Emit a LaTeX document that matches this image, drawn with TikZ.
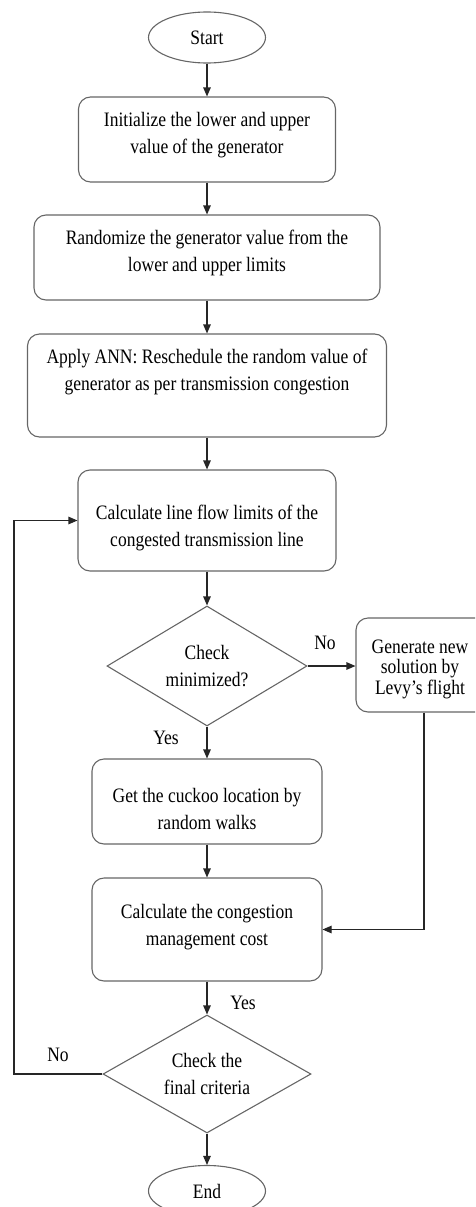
\documentclass[tikz,border=0pt]{standalone}
\usepackage{fontspec}
\setmainfont{Liberation Serif}[FakeStretch=0.854]
\usetikzlibrary{shapes.geometric,arrows.meta}
\begin{document}
\begin{tikzpicture}[x=1pt,y=-1pt,
  frame/.style={draw=black!60, line width=1.1pt, rounded corners=12pt, inner sep=0pt},
  term/.style={draw=black!60, line width=1.1pt, ellipse, minimum width=117pt, minimum height=51pt, inner sep=0pt, font=\fontsize{20.5}{21}\selectfont},
  dec/.style={draw=black!60, line width=1.1pt, diamond, inner sep=0pt},
  txt/.style={align=center, font=\fontsize{20.5}{27}\selectfont, inner sep=0pt},
  conn/.style={draw=black!85, line width=1.1pt, -{Triangle[length=9pt,width=7.5pt]}},
  lbl/.style={font=\fontsize{20.5}{21}\selectfont, inner sep=0pt}]
\useasboundingbox (0,0) rectangle (475,1207);
\clip (0,0) rectangle (475,1207);
% terminals
\node[term] (start) at (207,37.5) {Start};
\node[term] (end) at (207,1191) {End};
% process frames
\node[frame, minimum width=257pt, minimum height=85pt] (b1) at (207,139.5) {};
\node[frame, minimum width=346pt, minimum height=85pt] (b2) at (207,257.5) {};
\node[frame, minimum width=359pt, minimum height=103pt] (b3) at (207,385.5) {};
\node[frame, minimum width=258pt, minimum height=101pt] (b4) at (207,520.5) {};
\node[dec, minimum width=200pt, minimum height=120pt] (d1) at (207,666) {};
\node[frame, minimum width=136pt, minimum height=94pt] (lv) at (424,665) {};
\node[frame, minimum width=230pt, minimum height=85pt] (b5) at (207,801.5) {};
\node[frame, minimum width=230pt, minimum height=103pt] (b6) at (207,929.5) {};
\node[dec, minimum width=208pt, minimum height=118pt] (d2) at (207,1074) {};
% texts
\node[txt] (t1) at (207,135) {Initialize the lower and upper\\value of the generator};
\node[txt] (t2) at (207,252.5) {Randomize the generator value from the\\lower and upper limits};
\node[txt] (t3) at (207,372) {Apply ANN: Reschedule the random value of\\generator as per transmission congestion};
\node[txt] (t4) at (207,527.5) {Calculate line flow limits of the\\congested transmission line};
\node[txt] (td1) at (207,666) {Check\\minimized?};
\node[txt, font=\fontsize{20.5}{20.5}\selectfont] (tlv) at (420,669) {Generate new\\solution by\\Levy’s flight};
\node[txt] (t5) at (207,808.5) {Get the cuckoo location by\\random walks};
\node[txt] (t6) at (207,927.5) {Calculate the congestion\\management cost};
\node[txt] (td2) at (207,1073.5) {Check the\\final criteria};
% labels
\node[lbl] (no1) at (325,643) {No};
\node[lbl] (yes1) at (166,738) {Yes};
\node[lbl] (yes2) at (243,1003) {Yes};
\node[lbl] (no2) at (58,1055) {No};
% connectors
\draw[conn] (start) -- (b1);
\draw[conn] (b1) -- (b2);
\draw[conn] (b2) -- (b3);
\draw[conn] (b3) -- (b4);
\draw[conn] (b4) -- (d1);
\draw[conn] (d1.east) -- (lv.west |- d1.east);
\draw[conn] (d1) -- (b5);
\draw[conn] (b5) -- (b6);
\draw[conn] (lv.south) |- (b6.east);
\draw[conn] (b6) -- (d2);
\coordinate (lp) at (14,1074);
\draw[conn] (d2.west) -- (lp) |- (b4.west);
\draw[conn] (d2) -- (end);
\end{tikzpicture}
\end{document}
